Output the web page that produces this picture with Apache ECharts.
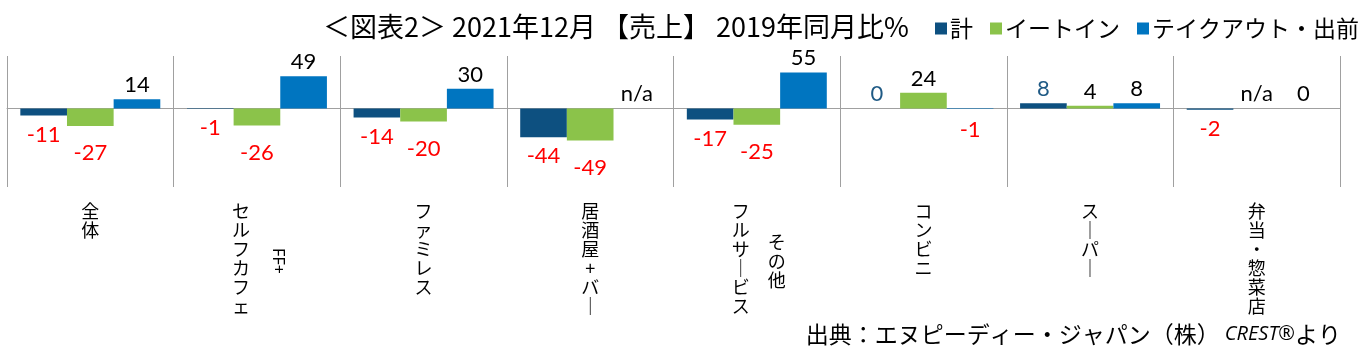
<!DOCTYPE html>
<html>
<head>
<meta charset="utf-8">
<script src="https://cdn.jsdelivr.net/npm/echarts@6/dist/echarts.min.js"></script>
<style>
  html, body { margin: 0; padding: 0; background: #ffffff; }
  #chart { width: 1368px; height: 357px; }
</style>
</head>
<body>
<div id="chart"></div>
<script>
// ---- data ----
const categories = ['全体', 'セルフカフェ\nFF+', 'ファミレス', '居酒屋+バー', 'フルサービス\nその他', 'コンビニ', 'スーパー', '弁当・惣菜店'];
const seriesNames = ['計', 'イートイン', 'テイクアウト・出前'];
const totalValues = [-11, -1, -14, -44, -17, 0, 8, -2];
const eatInValues = [-27, -26, -20, -49, -25, 24, 4, null];      // null = n/a
const takeoutValues = [14, 49, 30, null, 55, -1, 8, 0];          // null = n/a
const titleText = '＜図表2＞ 2021年12月 【売上】 2019年同月比%';
const sourceText = '出典：エヌピーディー・ジャパン（株）';
const sourceBrand = 'CREST';
const sourceTail = 'より';

// ---- styles ----
const colors = ['#0D5080', '#8BC34A', '#0075C0'];
const cjk = '"Noto Sans CJK JP", "Noto Sans", sans-serif';
const numFont = 'Lato, "Noto Sans", sans-serif';

function vert(s) {
  return Array.from(s).map(ch => ch === 'ー' ? '｜' : ch).join('\n');
}
function isAscii(s) { return /^[\x00-\x7F]*$/.test(s); }

function makeData(values, seriesIdx, dist) {
  return values.map(v => {
    const na = v === null;
    const val = na ? 0 : v;
    let color = '#000000';
    if (!na && val < 0) color = '#FF0000';
    else if (!na && seriesIdx === 0) color = '#1F5A85';
    return {
      value: val,
      na: na,
      label: {
        position: val < 0 ? 'bottom' : 'top',
        distance: val < 0 ? dist : 3,
        color: color
      }
    };
  });
}

const bottomDist = [8, 16, 10];
const series = [totalValues, eatInValues, takeoutValues].map((vals, i) => ({
  name: seriesNames[i],
  type: 'bar',
  xAxisIndex: 0,
  yAxisIndex: 0,
  barGap: '0%',
  barCategoryGap: '16%',
  itemStyle: { color: colors[i] },
  label: {
    show: true,
    fontFamily: numFont,
    fontSize: 22,
    formatter: p => p.data.na ? 'n/a' : String(p.value)
  },
  data: makeData(vals, i, bottomDist[i])
}));

const chart = echarts.init(document.getElementById('chart'), null, { renderer: 'canvas' });
chart.setOption({
  animation: false,
  backgroundColor: '#ffffff',
  color: colors,
  title: [
    {
      text: titleText,
      left: 318,
      top: 8,
      textStyle: { fontFamily: cjk, fontSize: 27, fontWeight: 'normal', color: '#000000' }
    },
    {
      text: '{a|' + sourceText + '} {b|' + sourceBrand + '}{c|®}{a|' + sourceTail + '}',
      right: 22,
      bottom: 6,
      textStyle: {
        fontWeight: 'normal',
        rich: {
          a: { fontFamily: cjk, fontSize: 23, fontWeight: 'normal', color: '#000000' },
          b: { fontFamily: '"Open Sans", sans-serif', fontStyle: 'italic', fontWeight: 'normal', fontSize: 20, color: '#000000' },
          c: { fontFamily: '"Open Sans", sans-serif', fontStyle: 'italic', fontWeight: 'normal', fontSize: 20, color: '#000000' }
        }
      }
    }
  ],
  legend: {
    right: 4,
    top: 12,
    icon: 'rect',
    itemWidth: 12,
    itemHeight: 12,
    itemGap: 17,
    textStyle: { fontFamily: cjk, fontSize: 23, color: '#000000', padding: [0, 0, 0, -2] },
    data: seriesNames
  },
  grid: {
    left: 7, right: 28, top: 56, bottom: 170,
    containLabel: false,
    outerBoundsMode: 'none'
  },
  xAxis: [
    {
      type: 'category',
      data: categories,
      position: 'bottom',
      axisLine: { show: false, onZero: false },
      axisTick: { show: false },
      splitLine: { show: true, lineStyle: { color: '#A0A0A0', width: 1 } },
      axisLabel: {
        interval: 0,
        margin: 15,
        verticalAlign: 'top',
        fontFamily: cjk,
        fontSize: 18,
        lineHeight: 19,
        color: '#000000',
        formatter: v => {
          const lines = v.split('\n');
          const col = vert(lines[0]);
          return lines.length > 1 ? '{l|' + col + '}' : col;
        },
        rich: {
          l: { fontFamily: cjk, fontSize: 18, lineHeight: 19, color: '#000000', padding: [0, 32, 0, 0] }
        }
      }
    },
    {
      type: 'category',
      data: categories,
      position: 'bottom',
      axisLine: { show: true, onZero: true, lineStyle: { color: '#A0A0A0', width: 1 } },
      axisTick: { show: false },
      axisLabel: { show: false },
      splitLine: { show: false }
    },
    {
      type: 'category',
      data: categories,
      position: 'bottom',
      axisLine: { show: false, onZero: false },
      axisTick: { show: false },
      splitLine: { show: false },
      axisLabel: {
        interval: 0,
        margin: 74,
        align: 'center',
        verticalAlign: 'middle',
        fontFamily: cjk,
        fontSize: 18,
        lineHeight: 19,
        color: '#000000',
        padding: [0, 0, 0, 40],
        formatter: v => {
          const lines = v.split('\n');
          return lines.length > 1 && !isAscii(lines[1]) ? vert(lines[1]) : '';
        }
      }
    },
    {
      type: 'category',
      data: categories,
      position: 'bottom',
      axisLine: { show: false, onZero: false },
      axisTick: { show: false },
      splitLine: { show: false },
      axisLabel: {
        interval: 0,
        margin: 74,
        rotate: -90,
        align: 'center',
        verticalAlign: 'middle',
        fontFamily: '"Noto Sans", sans-serif',
        fontSize: 16,
        lineHeight: 42,
        color: '#000000',
        formatter: v => {
          const lines = v.split('\n');
          return lines.length > 1 && isAscii(lines[1]) ? lines[1] + '\n\u3000' : '';
        }
      }
    }
  ],
  yAxis: {
    type: 'value',
    min: -120,
    max: 80,
    show: false,
    splitLine: { show: false }
  },
  series: series
});
</script>
</body>
</html>
